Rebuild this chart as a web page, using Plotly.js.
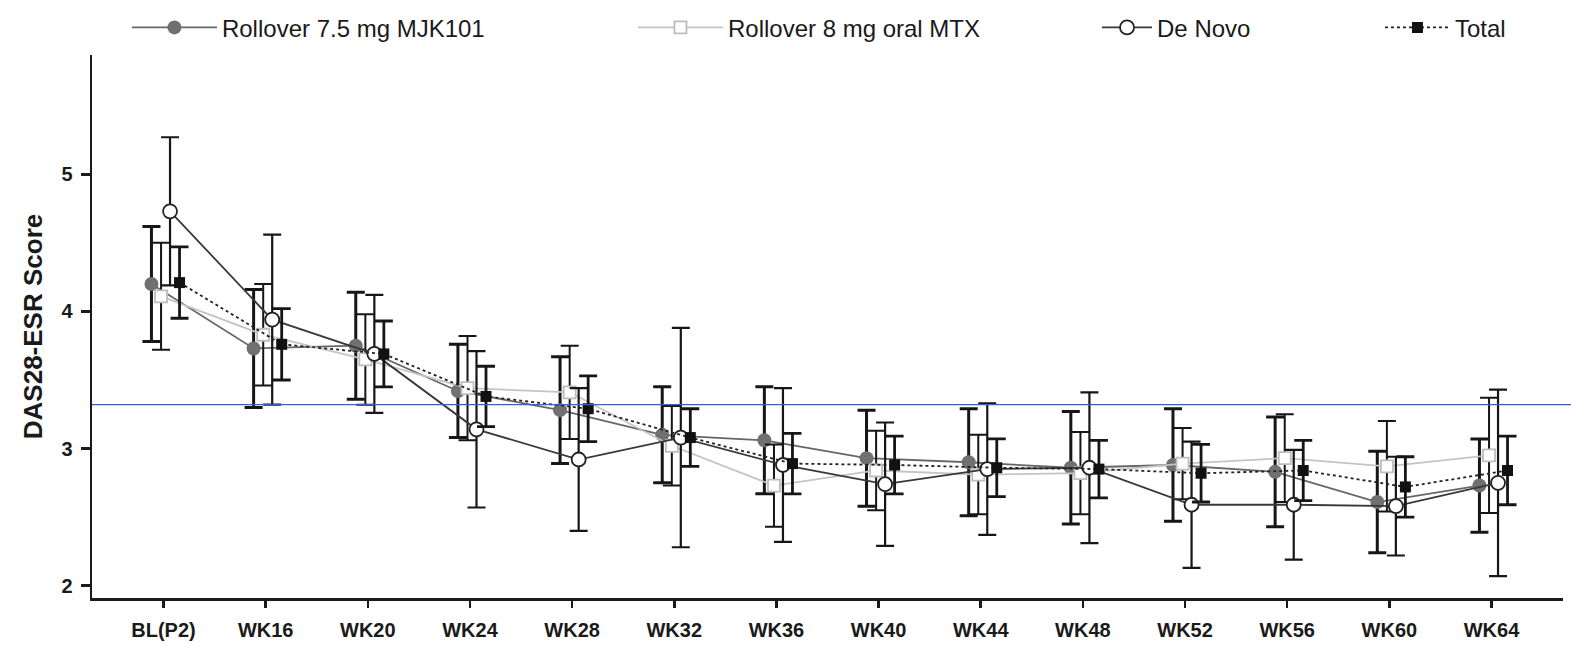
<!DOCTYPE html>
<html>
<head>
<meta charset="utf-8">
<script src="https://cdn.plot.ly/plotly-3.0.1.min.js"></script>
<style>html,body{margin:0;padding:0;background:#fff}#chart{width:1571px;height:647px}</style>
</head>
<body>
<div id="chart"></div>
<script>
// Visit labels
const visits = ["BL(P2)","WK16","WK20","WK24","WK28","WK32","WK36","WK40","WK44","WK48","WK52","WK56","WK60","WK64"];

// Rollover 7.5 mg MJK101 (mean, SD)
const mjkMean = [4.20,3.73,3.75,3.42,3.28,3.10,3.06,2.93,2.90,2.86,2.88,2.83,2.61,2.73];
const mjkSD   = [0.42,0.43,0.39,0.34,0.39,0.35,0.39,0.35,0.39,0.41,0.41,0.40,0.37,0.34];

// Rollover 8 mg oral MTX
const mtxMean = [4.11,3.83,3.65,3.44,3.41,3.02,2.73,2.84,2.81,2.82,2.89,2.93,2.87,2.95];
const mtxSD   = [0.39,0.37,0.33,0.38,0.34,0.29,0.30,0.29,0.29,0.30,0.26,0.32,0.33,0.42];

// De Novo
const dnMean = [4.73,3.94,3.69,3.14,2.92,3.08,2.88,2.74,2.85,2.86,2.59,2.59,2.58,2.75];
const dnSD   = [0.54,0.62,0.43,0.57,0.52,0.80,0.56,0.45,0.48,0.55,0.46,0.40,0.36,0.68];

// Total
const totMean = [4.21,3.76,3.69,3.38,3.29,3.08,2.89,2.88,2.86,2.85,2.82,2.84,2.72,2.84];
const totSD   = [0.26,0.26,0.24,0.22,0.24,0.21,0.22,0.21,0.21,0.21,0.21,0.22,0.22,0.25];

const refLine = 3.32;

const idx = visits.map((_, i) => i);
const shift = d => idx.map(i => i + d);

const font = "Liberation Sans, Arial, sans-serif";
const errColor = "#161616";

function trace(name, mean, sd, dx, line, marker, errThick, legend) {
  return {
    type: "scatter", mode: "lines+markers", name: name,
    x: shift(dx), y: mean,
    line: line, marker: marker,
    error_y: {type: "data", array: sd, visible: true, color: errColor, thickness: errThick, width: 9},
    legend: legend, cliponaxis: false
  };
}

const data = [
  trace("Rollover 7.5 mg MJK101", mjkMean, mjkSD, -0.118,
        {color: "#666666", width: 1.8},
        {symbol: "circle", size: 14, color: "#707070", line: {color: "#707070", width: 0}}, 3.0, "legend"),
  trace("Rollover 8 mg oral MTX", mtxMean, mtxSD, -0.024,
        {color: "#c4c4c4", width: 1.8},
        {symbol: "square", size: 12, color: "#ffffff", line: {color: "#bdbdbd", width: 1.8}}, 2.0, "legend2"),
  trace("De Novo", dnMean, dnSD, 0.064,
        {color: "#383838", width: 1.8},
        {symbol: "circle", size: 14, color: "#ffffff", line: {color: "#222222", width: 1.8}}, 2.2, "legend3"),
  trace("Total", totMean, totSD, 0.157,
        {color: "#222222", width: 1.8, dash: "dot"},
        {symbol: "square", size: 11, color: "#111111", line: {color: "#111111", width: 0}}, 2.8, "legend4")
];

const legBase = {orientation: "h", xref: "container", yref: "container", yanchor: "middle", y: 0.957,
  xanchor: "left", bgcolor: "rgba(0,0,0,0)", font: {family: font, size: 24, color: "#1a1a1a"}};

const layout = {
  width: 1571, height: 647,
  margin: {l: 92, r: 8, t: 55, b: 49, autoexpand: false},
  paper_bgcolor: "#ffffff", plot_bgcolor: "#ffffff",
  showlegend: true,
  legend:  Object.assign({}, legBase, {x: 0.0808, itemwidth: 85}),
  legend2: Object.assign({}, legBase, {x: 0.4029, itemwidth: 85}),
  legend3: Object.assign({}, legBase, {x: 0.6983, itemwidth: 50}),
  legend4: Object.assign({}, legBase, {x: 0.8784, itemwidth: 65}),
  xaxis: {
    range: [-0.7, 13.7], tickmode: "array", tickvals: idx, ticktext: visits,
    showgrid: false, zeroline: false, showline: true, linecolor: "#1a1a1a", linewidth: 2.5,
    ticks: "outside", ticklen: 7, tickwidth: 2.5, tickcolor: "#1a1a1a", ticklabelstandoff: 5,
    tickfont: {family: font, size: 20, color: "#1a1a1a", weight: "bold"}
  },
  yaxis: {
    range: [1.91, 5.87], tickvals: [2,3,4,5],
    showgrid: false, zeroline: false, showline: true, linecolor: "#1a1a1a", linewidth: 2.5,
    ticks: "outside", ticklen: 9, tickwidth: 2.5, tickcolor: "#1a1a1a", ticklabelstandoff: 4,
    tickfont: {family: font, size: 20, color: "#1a1a1a", weight: "bold"},
    title: {text: "DAS28-ESR Score", font: {family: font, size: 26, color: "#1a1a1a", weight: "bold"}, standoff: 12}
  },
  shapes: [{type: "line", xref: "paper", yref: "y", x0: 0, x1: 1.006, y0: refLine, y1: refLine,
            line: {color: "#2e62d9", width: 1.1}}]
};

Plotly.newPlot("chart", data, layout, {displayModeBar: false, staticPlot: true});
</script>
</body>
</html>
